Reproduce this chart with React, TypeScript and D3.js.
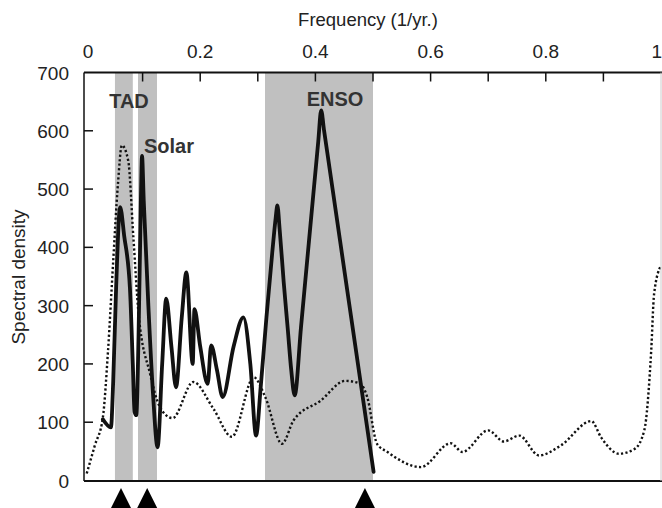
import React from "react";
import * as d3 from "d3";

// Frequency (1/yr) and spectral density of the solid (thick) curve
const solidFreq = [0.031, 0.045, 0.049, 0.054, 0.061, 0.068, 0.078, 0.083, 0.086, 0.089, 0.093, 0.097, 0.099, 0.102, 0.110, 0.118, 0.126, 0.134, 0.141, 0.150, 0.158, 0.168, 0.176, 0.187, 0.190, 0.200, 0.213, 0.219, 0.229, 0.239, 0.258, 0.275, 0.287, 0.297, 0.305, 0.315, 0.325, 0.331, 0.334, 0.338, 0.345, 0.352, 0.358, 0.364, 0.375, 0.387, 0.398, 0.405, 0.410, 0.415, 0.430, 0.455, 0.480, 0.501];
const solidVal = [105, 91, 171, 330, 469, 420, 330, 200, 118, 112, 250, 480, 557, 480, 300, 150, 57, 200, 312, 230, 160, 280, 357, 200, 294, 230, 166, 232, 190, 143, 230, 280, 200, 77, 160, 280, 390, 450, 472, 430, 340, 260, 190, 146, 263, 391, 508, 582, 635, 601, 499, 328, 158, 15];

// Frequency and spectral density of the dotted curve
const dotFreq = [0.003, 0.017, 0.031, 0.040, 0.049, 0.057, 0.064, 0.075, 0.084, 0.093, 0.113, 0.130, 0.152, 0.188, 0.223, 0.255, 0.293, 0.313, 0.342, 0.362, 0.409, 0.452, 0.478, 0.490, 0.507, 0.525, 0.583, 0.635, 0.655, 0.700, 0.727, 0.754, 0.788, 0.826, 0.879, 0.896, 0.927, 0.954, 0.971, 0.983, 0.988, 1.0];
const dotVal = [12, 60, 108, 223, 377, 506, 575, 549, 417, 286, 183, 126, 107, 169, 123, 75, 177, 143, 63, 103, 137, 171, 166, 143, 63, 49, 23, 64, 49, 86, 67, 77, 43, 60, 102, 74, 46, 54, 86, 223, 320, 369];

// Shaded frequency bands
const bandNames = ["TAD", "Solar", "ENSO"];
const bandStart = [0.052, 0.092, 0.3125];
const bandEnd = [0.083, 0.125, 0.5];

// Triangle markers (frequency)
const markerFreq = [0.0625, 0.108, 0.486];

// Axis ticks
const xTickValues = [0.1, 0.2, 0.3, 0.4, 0.5, 0.6, 0.7, 0.8, 0.9];
const xTickLabels = ["0", "0.2", "0.4", "0.6", "0.8", "1"];
const xTickLabelValues = [0, 0.2, 0.4, 0.6, 0.8, 1];
const yTickValues = [0, 100, 200, 300, 400, 500, 600, 700];

export default function App() {
  const x = d3.scaleLinear().domain([0, 1]).range([85, 661]);
  const y = d3.scaleLinear().domain([0, 700]).range([480.5, 72.5]);
  const left = 84;
  const right = 662;
  const top = 72.5;
  const bottom = 481;

  const solidLine = d3
    .line<number>()
    .x((_, i) => x(solidFreq[i]))
    .y((d) => y(d))
    .curve(d3.curveMonotoneX);
  const dotLine = d3
    .line<number>()
    .x((_, i) => x(dotFreq[i]))
    .y((d) => y(d))
    .curve(d3.curveMonotoneX);

  const font = "'Liberation Sans', Arial, sans-serif";
  const labelPos = [
    { x: 129, y: 108 },
    { x: 169, y: 153 },
    { x: 335, y: 106 },
  ];

  return (
    <div style={{ position: "absolute", left: 0, top: 0 }}>
      <svg width={662} height={508} style={{ display: "block", background: "#fff" }} fontFamily={font}>
        {bandStart.map((s, i) => (
          <rect
            key={"b" + i}
            x={x(s)}
            y={top}
            width={x(bandEnd[i]) - x(s)}
            height={bottom - top}
            fill="#c0c0c0"
          />
        ))}
        <path d={dotLine(dotVal) || ""} fill="none" stroke="#111" strokeWidth={2.4} strokeDasharray="2.2 2.3" />
        <path d={solidLine(solidVal) || ""} fill="none" stroke="#111" strokeWidth={3.8} strokeLinejoin="round" strokeLinecap="round" />

        {/* frame */}
        <line x1={left} x2={right} y1={top} y2={top} stroke="#111" strokeWidth={2} />
        <line x1={left} x2={right} y1={bottom} y2={bottom} stroke="#111" strokeWidth={2} />
        <line x1={left} x2={left} y1={top} y2={bottom} stroke="#111" strokeWidth={1.5} />
        <line x1={661} x2={661} y1={top} y2={bottom} stroke="#ccc" strokeWidth={1} />

        {xTickValues.map((t) => (
          <line key={"xt" + t} x1={x(t)} x2={x(t)} y1={top} y2={top + 9} stroke="#111" strokeWidth={1.5} />
        ))}
        {xTickLabelValues.map((t, i) => (
          <text
            key={"xl" + t}
            x={i === 0 ? x(t) + 3 : i === xTickLabelValues.length - 1 ? 662 : x(t)}
            y={58}
            textAnchor={i === xTickLabelValues.length - 1 ? "end" : "middle"}
            fontSize={19}
            fill="#222"
          >
            {xTickLabels[i]}
          </text>
        ))}
        {yTickValues.map((t) => (
          <g key={"yt" + t}>
            {t > 0 && t < 700 && (
              <line x1={left} x2={left + 9} y1={y(t)} y2={y(t)} stroke="#111" strokeWidth={1.5} />
            )}
            <text x={69} y={y(t) + 7} textAnchor="end" fontSize={19} fill="#222">
              {t}
            </text>
          </g>
        ))}

        <text x={368} y={26} textAnchor="middle" fontSize={18.5} fill="#222">
          Frequency (1/yr.)
        </text>
        <text transform="translate(25,277) rotate(-90)" textAnchor="middle" fontSize={19} fill="#222">
          Spectral density
        </text>

        {bandNames.map((n, i) => (
          <text key={n} x={labelPos[i].x} y={labelPos[i].y} textAnchor="middle" fontSize={20} fontWeight="bold" fill="#333">
            {n}
          </text>
        ))}

        {markerFreq.map((f, i) => (
          <path
            key={"m" + i}
            d={`M${x(f)},488 L${x(f) + 10.5},509 L${x(f) - 10.5},509 Z`}
            fill="#000"
          />
        ))}
      </svg>
    </div>
  );
}
